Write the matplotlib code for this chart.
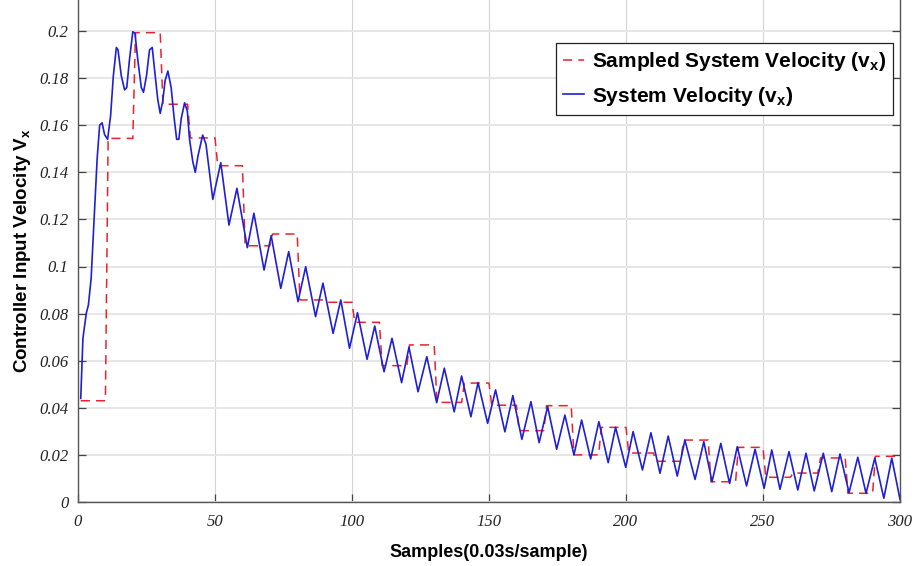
import numpy as np
import matplotlib
matplotlib.use("Agg")
import matplotlib.pyplot as plt

plt.rcParams["mathtext.fontset"] = "custom"
plt.rcParams["mathtext.rm"] = "Liberation Sans:bold"
plt.rcParams["mathtext.bf"] = "Liberation Sans:bold"
plt.rcParams["mathtext.it"] = "Liberation Sans:bold"

# Continuous system velocity: turning points of the oscillating response
vel_samples = [1, 1.8, 3.0, 3.8, 4.8, 6.0, 7.0, 7.9, 8.8, 9.7, 10.8, 11.9, 12.9, 14.0,
               14.6, 15.8, 17.0, 17.8, 18.8, 20.0, 20.8, 21.8, 23.1, 23.9, 25.0, 26.1,
               27.1, 27.9, 29.1, 30.0, 30.9, 31.8, 32.8, 34.0, 35.0, 36.0, 36.8, 37.7,
               38.9, 39.9, 40.7, 41.9, 42.8, 43.8, 45.5, 46.7, 49.2, 52.1, 55.1, 58.0,
               61.8, 64.2, 67.9, 70.5, 74.0, 76.9, 80.3, 83.1, 86.7, 89.4, 93.1, 95.9,
               99.1, 102.0, 105.5, 108.3, 111.7, 114.6, 118.1, 120.8, 124.1, 127.3,
               130.9, 133.7, 137.3, 140.0, 143.4, 146.0, 149.5, 152.4, 155.8, 158.7,
               162.0, 165.3, 168.3, 171.4, 174.7, 177.7, 181.0, 183.8, 187.1, 190.1,
               193.5, 196.2, 199.9, 202.6, 206.0, 209.1, 212.4, 215.4, 218.7, 221.5,
               225.2, 228.4, 231.4, 234.6, 237.8, 240.6, 244.0, 247.1, 250.4, 253.2,
               256.2, 259.5, 262.7, 265.7, 268.7, 272.0, 275.1, 278.1, 281.4, 284.6,
               287.6, 290.8, 294.1, 297.0, 300.0]
vel_values = [0.044, 0.0695, 0.080, 0.0837, 0.095, 0.123, 0.146, 0.160, 0.161, 0.156,
              0.154, 0.164, 0.181, 0.193, 0.192, 0.181, 0.175, 0.176, 0.188, 0.1997,
              0.199, 0.188, 0.176, 0.174, 0.181, 0.192, 0.193, 0.184, 0.171, 0.165,
              0.170, 0.179, 0.183, 0.176, 0.164, 0.154, 0.154, 0.163, 0.1695, 0.166,
              0.154, 0.1445, 0.140, 0.147, 0.1558, 0.152, 0.1285, 0.1441, 0.1176,
              0.1332, 0.108, 0.1226, 0.0985, 0.1131, 0.0907, 0.1063, 0.0851, 0.0999,
              0.0787, 0.0929, 0.0716, 0.0858, 0.0653, 0.0804, 0.0606, 0.0747, 0.0553,
              0.0695, 0.0507, 0.0657, 0.0468, 0.0617, 0.0422, 0.0568, 0.0383, 0.0535,
              0.0362, 0.0507, 0.0334, 0.0476, 0.0298, 0.0452, 0.0266, 0.0426, 0.0252,
              0.0405, 0.0224, 0.0369, 0.020, 0.0348, 0.0183, 0.0341, 0.0167, 0.0317,
              0.0147, 0.0299, 0.0136, 0.0294, 0.0122, 0.0280, 0.011, 0.0263, 0.0096,
              0.0256, 0.0086, 0.0249, 0.0079, 0.0235, 0.0068, 0.0224, 0.0058, 0.0221,
              0.0054, 0.0214, 0.0051, 0.0207, 0.0047, 0.0207, 0.0044, 0.0204, 0.004,
              0.019, 0.0037, 0.0186, 0.0016, 0.0186, 0.0011]

# Sampled velocity, one value held for every block of 10 samples
sample_period = 10
sampled_values = [0.0430, 0.1544, 0.1993, 0.1689, 0.1546, 0.1428, 0.1088, 0.1138,
                  0.0858, 0.0848, 0.0763, 0.0579, 0.0667, 0.0423, 0.0505, 0.0411,
                  0.0303, 0.0409, 0.0200, 0.0317, 0.0208, 0.0173, 0.0263, 0.0086,
                  0.0232, 0.0105, 0.0123, 0.0187, 0.0037, 0.0194]

x_ticks = [0, 50, 100, 150, 200, 250, 300]
y_ticks = [0, 0.02, 0.04, 0.06, 0.08, 0.1, 0.12, 0.14, 0.16, 0.18, 0.2]
y_tick_labels = ["0", "0.02", "0.04", "0.06", "0.08", "0.1", "0.12", "0.14",
                 "0.16", "0.18", "0.2"]

W, H = 913, 566
fig = plt.figure(figsize=(W / 100, H / 100), dpi=100)
ax = fig.add_axes([78 / W, 1 - 502 / H, (900 - 78) / W, 502 / H])

held_x = np.arange(1, sample_period * len(sampled_values) + 1)
held_y = np.repeat(sampled_values, sample_period)

ax.plot(held_x, held_y, color="#e8232e", lw=1.1, dashes=(6, 4),
        label=r"Sampled System Velocity (v$_\mathbf{x}$)", zorder=3)
ax.plot(vel_samples, vel_values, color="#1f1fd6", lw=1.2,
        label=r"System Velocity (v$_\mathbf{x}$)", zorder=4)

ax.set_xlim(0, 300)
ax.set_ylim(0, 0.2 + 31 / 2355)
ax.set_xticks(x_ticks)
ax.set_xticklabels([str(t) for t in x_ticks])
ax.set_yticks(y_ticks)
ax.set_yticklabels(y_tick_labels)

for lab in ax.get_xticklabels() + ax.get_yticklabels():
    lab.set_fontfamily("Liberation Serif")
    lab.set_fontstyle("italic")
    lab.set_fontsize(12)
    lab.set_color("#222222")

ax.tick_params(axis="both", direction="in", length=6, width=0.9, color="#444444")
ax.tick_params(axis="y", right=True, pad=7)
ax.tick_params(axis="x", top=False, pad=9)

ax.yaxis.grid(True, color="#e6e6e6", lw=1.4)
ax.xaxis.grid(True, color="#d4d4d4", lw=0.8)
ax.set_axisbelow(True)

for side in ["left", "right", "bottom"]:
    ax.spines[side].set_color("#555555")
    ax.spines[side].set_linewidth(1.0)
ax.spines["top"].set_visible(False)

ax.set_xlabel("Samples(0.03s/sample)", family="Liberation Sans", weight="bold",
              size=13, labelpad=10)
ax.set_ylabel(r"Controller Input Velocity V$_\mathbf{x}$", family="Liberation Sans",
              weight="bold", size=13.5, labelpad=4)

leg = ax.legend(loc="upper right", bbox_to_anchor=(893 / W, 1 - 43 / H),
                bbox_transform=fig.transFigure, borderaxespad=0, fancybox=False,
                framealpha=1, edgecolor="#222222", handlelength=1.0,
                handletextpad=0.35, borderpad=0.35, labelspacing=0.55,
                prop=dict(family="Liberation Sans", weight="bold", size=15))
leg.get_frame().set_linewidth(0.9)

fig.savefig("out.png", dpi=100)
